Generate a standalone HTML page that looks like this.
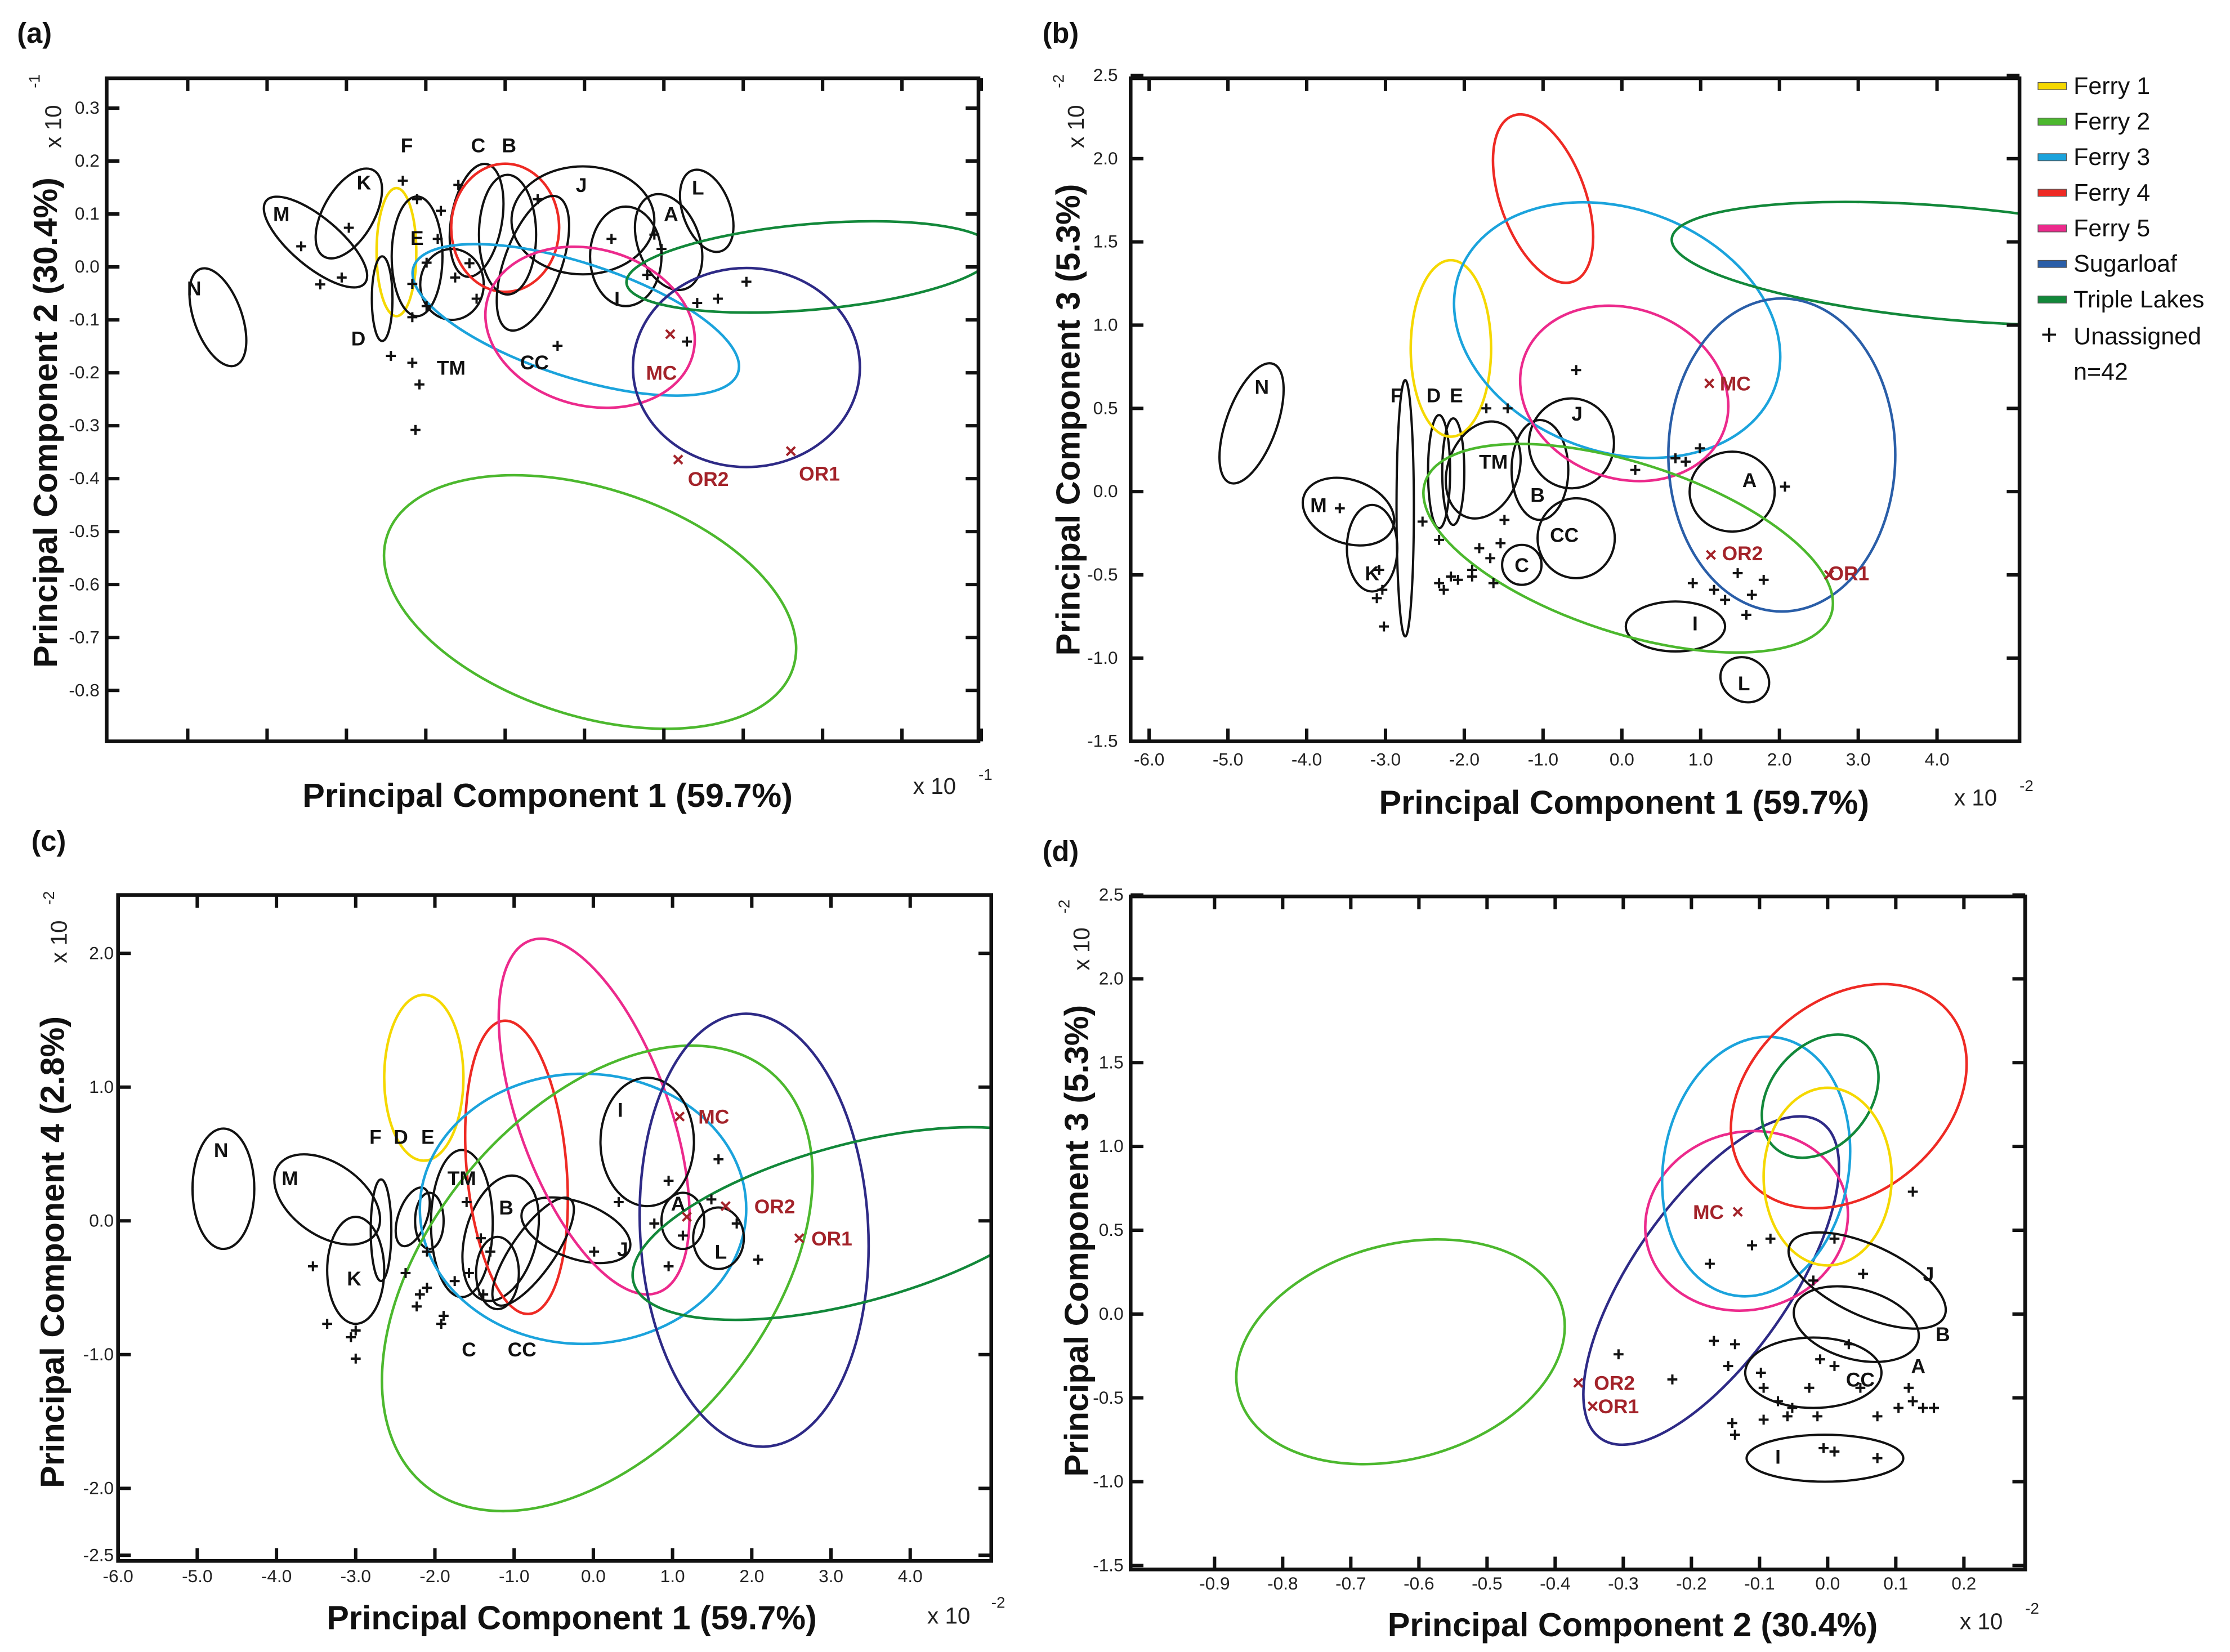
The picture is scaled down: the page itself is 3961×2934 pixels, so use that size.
<!DOCTYPE html>
<html><head><meta charset="utf-8"><style>
html,body{margin:0;padding:0;background:#fff;}
svg{display:block;}
text{font-family:"Liberation Sans",sans-serif;}
</style></head><body>
<svg id="fig" xmlns="http://www.w3.org/2000/svg" width="3961" height="2934" viewBox="0 0 1568 1161" preserveAspectRatio="none">
<rect x="0" y="0" width="1568" height="1161" fill="#fff"/>
</svg>
<script>
// ---------- colours ----------
const colors = {k:'#111', y:'#f5d800', g:'#4cb82e', lb:'#1ba3dc', r:'#ee2a24', p:'#ec2a8c', s:'#2a5ea8', pu:'#2e2a86', tl:'#12883a'};

// ---------- panel (a) data ----------
const aEll = [
 [0.38,-0.095,0.30,0.097,-20,'k'],[1.61,0.047,0.81,0.046,40,'k'],[2.03,0.101,0.32,0.094,30,'k'],
 [2.63,0.028,0.25,0.121,0,'y'],[2.89,0.02,0.32,0.113,0,'k'],[2.45,-0.06,0.13,0.08,0,'k'],[3.33,-0.033,0.40,0.067,0,'k'],
 [3.64,0.088,0.32,0.108,10,'k'],[4.0,0.074,0.68,0.121,0,'r'],[4.03,0.061,0.36,0.113,0,'k'],
 [4.35,0.007,0.36,0.134,20,'k'],[4.98,0.088,0.9,0.102,0,'k'],[5.52,0.02,0.45,0.094,0,'k'],
 [6.06,0.047,0.39,0.094,-20,'k'],[6.54,0.106,0.30,0.081,-20,'k'],
 [4.89,-0.10,2.15,0.108,18,'lb'],[5.07,-0.114,1.34,0.148,15,'p'],[7.04,-0.19,1.43,0.188,0,'pu'],
 [7.85,0.0,2.33,0.081,-5,'tl'],[5.07,-0.633,2.69,0.215,18,'g']];
const aPts = [[2.71,0.163],[2.89,0.128],[3.19,0.106],[3.41,0.155],[3.15,0.053],[3.01,0.008],[2.83,-0.032],[3.01,-0.074],[2.56,-0.168],[2.83,-0.181],[2.92,-0.222],[2.87,-0.308],[3.37,-0.02],[3.64,-0.06],[3.55,0.007],[4.41,0.128],[4.66,-0.149],[5.34,0.053],[5.88,0.061],[5.97,0.034],[5.79,-0.015],[6.29,-0.141],[6.42,-0.068],[6.68,-0.06],[7.04,-0.028],[2.03,0.074],[1.94,-0.02],[1.43,0.039],[1.67,-0.033],[2.83,-0.095]];
const aRef = [[6.08,-0.127],[6.18,-0.364],[7.6,-0.348]];
const aLab = [['N',0.08,-0.04],['M',1.18,0.10],['K',2.22,0.16],['F',2.76,0.23],['E',2.89,0.055],['D',2.15,-0.135],['TM',3.32,-0.19],['C',3.66,0.23],['B',4.05,0.23],['CC',4.37,-0.18],['J',4.96,0.155],['I',5.41,-0.06],['A',6.09,0.10],['L',6.43,0.15]];
const aRefLab = [['MC',5.97,-0.20],['OR2',6.56,-0.40],['OR1',7.96,-0.39]];
const aYTicks = ['0.3','0.2','0.1','0.0','-0.1','-0.2','-0.3','-0.4','-0.5','-0.6','-0.7','-0.8'];

// ---------- panel (b) data ----------
const bEll = [
 [-4.70,0.41,0.32,0.38,20,'k'],[-3.47,-0.12,0.6,0.19,20,'k'],[-3.17,-0.34,0.32,0.26,0,'k'],
 [-2.75,-0.10,0.11,0.77,0,'k'],[-2.32,0.12,0.14,0.34,0,'k'],[-2.14,0.12,0.14,0.32,0,'k'],
 [-2.17,0.86,0.51,0.53,0,'y'],[-1.76,0.13,0.45,0.30,20,'k'],[-1.04,0.13,0.36,0.30,0,'k'],
 [-0.64,0.29,0.54,0.27,0,'k'],[-1.27,-0.44,0.25,0.12,0,'k'],[-0.58,-0.28,0.49,0.24,0,'k'],
 [0.68,-0.81,0.63,0.15,0,'k'],[1.56,-1.13,0.32,0.13,30,'k'],[1.40,0.0,0.54,0.24,0,'k'],
 [-1.0,1.76,0.54,0.53,-20,'r'],[-0.06,0.97,2.13,0.73,20,'lb'],[0.03,0.59,1.35,0.51,20,'p'],
 [2.03,0.22,1.44,0.94,0,'s'],[0.08,-0.34,2.71,0.51,18,'g'],[4.23,1.37,3.61,0.34,5,'tl']];
const bPts = [[-3.58,-0.10],[-3.08,-0.47],[-3.04,-0.59],[-3.11,-0.64],[-3.02,-0.81],[-2.53,-0.18],[-2.32,-0.29],[-2.32,-0.55],[-2.17,-0.51],[-2.26,-0.59],[-2.08,-0.53],[-1.90,-0.47],[-1.81,-0.34],[-1.67,-0.40],[-1.90,-0.51],[-1.54,-0.31],[-1.49,-0.17],[-1.72,0.50],[-1.45,0.50],[-0.58,0.73],[0.17,0.13],[0.68,0.20],[0.81,0.18],[0.99,0.26],[2.07,0.03],[0.90,-0.55],[1.17,-0.59],[1.47,-0.49],[1.65,-0.62],[1.80,-0.53],[1.58,-0.74],[1.31,-0.65],[-1.63,-0.55]];
const bRef = [[1.11,0.65],[1.13,-0.38],[2.63,-0.50]];
const bLab = [['N',-4.57,0.63],['M',-3.85,-0.08],['K',-3.17,-0.49],['F',-2.86,0.58],['D',-2.39,0.58],['E',-2.1,0.58],['TM',-1.63,0.18],['B',-1.07,-0.02],['J',-0.57,0.47],['C',-1.27,-0.44],['CC',-0.73,-0.26],['I',0.93,-0.79],['L',1.55,-1.15],['A',1.62,0.07]];
const bRefLab = [['MC',1.44,0.65],['OR2',1.53,-0.37],['OR1',2.88,-0.49]];
const bYTicks = ['2.5','2.0','1.5','1.0','0.5','0.0','-0.5','-1.0','-1.5'];
const bXTicks = ['-6.0','-5.0','-4.0','-3.0','-2.0','-1.0','0.0','1.0','2.0','3.0','4.0'];

// ---------- panel (c) data ----------
const cEll = [
 [-4.67,0.24,0.39,0.45,0,'k'],[-3.36,0.16,0.75,0.27,35,'k'],[-3.0,-0.37,0.36,0.40,0,'k'],
 [-2.68,-0.07,0.13,0.38,0,'k'],[-2.28,0.03,0.18,0.23,20,'k'],[-2.07,0.0,0.18,0.21,0,'k'],
 [-2.14,1.07,0.50,0.62,0,'y'],[-1.66,-0.02,0.39,0.55,0,'k'],[-1.17,-0.13,0.45,0.48,15,'k'],
 [-0.97,0.40,0.63,1.10,-5,'r'],[-1.21,-0.39,0.27,0.27,0,'k'],[-0.22,-0.07,0.72,0.21,20,'k'],
 [-0.76,-0.23,0.27,0.48,35,'k'],[0.01,0.78,0.95,1.40,-20,'p'],[-0.13,0.09,2.06,1.01,0,'lb'],
 [0.68,0.59,0.59,0.48,0,'k'],[1.13,0.0,0.27,0.21,0,'k'],[1.58,-0.13,0.32,0.23,0,'k'],
 [0.05,-0.43,3.4,1.25,-50,'g'],[2.03,-0.07,1.44,1.62,-3,'pu'],[3.28,-0.02,2.87,0.59,-15,'tl']];
const cPts = [[-3.54,-0.34],[-3.36,-0.77],[-3.0,-0.82],[-3.0,-1.03],[-3.06,-0.87],[-2.37,-0.39],[-2.19,-0.55],[-2.10,-0.50],[-2.23,-0.64],[-1.92,-0.77],[-2.10,-0.23],[-1.60,0.14],[-1.42,-0.13],[-1.57,-0.39],[-1.39,-0.55],[-1.30,-0.23],[-1.75,-0.45],[-1.89,-0.71],[0.32,0.14],[0.77,-0.02],[0.95,-0.34],[1.13,-0.11],[1.49,0.16],[1.58,0.46],[1.81,-0.02],[2.08,-0.29],[0.95,0.30],[0.01,-0.23]];
const cRef = [[1.09,0.78],[1.18,0.03],[1.67,0.11],[2.60,-0.13]];
const cLab = [['N',-4.70,0.53],['M',-3.83,0.32],['F',-2.75,0.63],['D',-2.43,0.63],['E',-2.09,0.63],['TM',-1.66,0.32],['K',-3.02,-0.43],['B',-1.1,0.1],['C',-1.57,-0.96],['CC',-0.90,-0.96],['J',0.37,-0.21],['I',0.34,0.83],['A',1.07,0.13],['L',1.61,-0.23]];
const cRefLab = [['MC',1.52,0.78],['OR2',2.29,0.11],['OR1',3.01,-0.13]];
const cYTicks = [['2.0',2.0],['1.0',1.0],['0.0',0.0],['-1.0',-1.0],['-2.0',-2.0],['-2.5',-2.5]];
const cXTicks = ['-6.0','-5.0','-4.0','-3.0','-2.0','-1.0','0.0','1.0','2.0','3.0','4.0'];

// ---------- panel (d) data ----------
const dEll = [
 [-0.627,-0.225,0.246,0.64,-15,'g'],[-0.171,0.20,0.115,1.15,35,'pu'],[-0.119,0.556,0.150,0.53,-15,'p'],
 [-0.105,0.88,0.136,0.78,10,'lb'],[0.031,1.30,0.142,0.78,50,'r'],[-0.011,1.30,0.073,0.41,40,'tl'],
 [0.0,0.82,0.094,0.53,0,'y'],[0.058,0.20,0.125,0.21,25,'k'],[0.042,-0.06,0.094,0.21,15,'k'],
 [-0.021,-0.35,0.10,0.21,0,'k'],[-0.004,-0.86,0.115,0.14,0,'k']];
const dPts = [[-0.307,-0.24],[-0.228,-0.39],[-0.167,-0.16],[-0.136,-0.18],[-0.146,-0.31],[-0.098,-0.35],[-0.094,-0.44],[-0.073,-0.52],[-0.052,-0.56],[-0.027,-0.44],[-0.011,-0.27],[0.010,-0.31],[0.031,-0.18],[0.048,-0.44],[0.073,-0.61],[0.104,-0.56],[0.125,-0.52],[0.140,-0.56],[0.156,-0.56],[0.119,-0.44],[-0.140,-0.65],[-0.136,-0.72],[-0.094,-0.63],[-0.059,-0.61],[-0.015,-0.61],[-0.006,-0.80],[0.010,-0.82],[0.073,-0.86],[-0.173,0.30],[-0.084,0.45],[-0.021,0.20],[0.010,0.45],[0.052,0.24],[0.125,0.73],[-0.111,0.41]];
const dRef = [[-0.132,0.61],[-0.366,-0.41],[-0.345,-0.55]];
const dLab = [['J',0.148,0.24],['B',0.169,-0.12],['A',0.133,-0.31],['CC',0.048,-0.39],['I',-0.073,-0.85]];
const dRefLab = [['MC',-0.175,0.61],['OR2',-0.313,-0.41],['OR1',-0.307,-0.55]];
const dYTicks = ['2.5','2.0','1.5','1.0','0.5','0.0','-0.5','-1.0','-1.5'];
const dXTicks = ['-0.9','-0.8','-0.7','-0.6','-0.5','-0.4','-0.3','-0.2','-0.1','0.0','0.1','0.2'];

// ---------- legend ----------
const legendNames = ['Ferry 1','Ferry 2','Ferry 3','Ferry 4','Ferry 5','Sugarloaf','Triple Lakes'];
const legendKeys = ['y','g','lb','r','p','s','tl'];

// ---------- axes ----------
const xa = v => 132 + 55.8*v,  ya = v => 76 + (0.3 - v)*372;
const xb = v => 808 + (v + 6)*55.4, yb = v => 53 + (2.5 - v)*117;
const xc = v => 83 + (v + 6)*55.7,  yc = v => 670 + (2.0 - v)*94;
const xd = v => 854 + (v + 0.9)*479, yd = v => 629 + (2.5 - v)*117.8;

const NS = 'http://www.w3.org/2000/svg';
const svg = document.getElementById('fig');
function mk(tag, attrs, parent){ const e=document.createElementNS(NS,tag); for(const k in attrs) e.setAttribute(k,attrs[k]); (parent||svg).appendChild(e); return e; }
function txt(s, attrs, parent){ const t=mk('text',attrs,parent); t.textContent=s; return t; }

function panel(id, box, sx, sy, kx, ky, ell, pts, refs, labs, refLabs){
  const g = mk('g',{});
  
  
  const cp = mk('clipPath',{id:'clip-'+id}, g);
  mk('rect',{x:box[0],y:box[1],width:box[2]-box[0],height:box[3]-box[1]}, cp);
  const pg = mk('g',{'clip-path':'url(#clip-'+id+')'}, g);
  ell.forEach(e => {
    const cx=sx(e[0]), cy=sy(e[1]);
    const el = mk('ellipse',{cx:cx,cy:cy,rx:Math.abs(kx*e[2]),ry:Math.abs(ky*e[3]),transform:'rotate('+e[4]+' '+cx+' '+cy+')',fill:'none',stroke:colors[e[5]],'stroke-width':e[5]==='k'?1.6:1.8}, pg);
    
    
  });
  pts.forEach(p => {
    const x=sx(p[0]), y=sy(p[1]);
    const pm = mk('path',{d:'M'+(x-3.5)+' '+y+'h7M'+x+' '+(y-3.5)+'v7',stroke:'#111','stroke-width':1.6}, pg);
    
    
  });
  refs.forEach(p => {
    const x=sx(p[0]), y=sy(p[1]);
    const rm = mk('path',{d:'M'+(x-3)+' '+(y-3)+'l6 6M'+(x+3)+' '+(y-3)+'l-6 6',stroke:'#a3232a','stroke-width':1.6}, pg);
    
    
  });
  labs.forEach(l => {
    const t = txt(l[0],{x:sx(l[1]),y:sy(l[2])+5,'text-anchor':'middle','font-size':14,'font-weight':'bold',fill:'#111'}, g);
    
    
  });
  refLabs.forEach(l => {
    const t = txt(l[0],{x:sx(l[1]),y:sy(l[2])+5,'text-anchor':'middle','font-size':14,'font-weight':'bold',fill:'#a3232a'}, g);
    
    
  });
  const fr = mk('rect',{x:box[0],y:box[1],width:box[2]-box[0],height:box[3]-box[1],fill:'none',stroke:'#111','stroke-width':2.6}, g);
  
  
  return g;
}
function yTicks(g, box, sy, list, lx){
  list.forEach(t => {
    const lab = Array.isArray(t)?t[0]:t, v = Array.isArray(t)?t[1]:parseFloat(t);
    const y = sy(v);
    mk('path',{d:'M'+box[0]+' '+y+'h9M'+box[2]+' '+y+'h-9',stroke:'#111','stroke-width':2.4}, g);
    const tx = txt(lab,{x:lx,y:y+4,'text-anchor':'end','font-size':12.5,fill:'#222'}, g);
    
    
  });
}
function xTicks(g, box, sx, vals, labels, ly){
  vals.forEach((v,i) => {
    const x = sx(v);
    mk('path',{d:'M'+x+' '+box[3]+'v-9M'+x+' '+box[1]+'v9',stroke:'#111','stroke-width':2.4}, g);
    if(labels){
      const tx = txt(labels[i],{x:x,y:ly,'text-anchor':'middle','font-size':12.5,fill:'#222'}, g);
      
      
    }
  });
}
function titles(xt, xtx, xty, yt, ytx, yty, ex, ey, yex, yey){
  const a = txt(xt,{x:xtx,y:xty,'text-anchor':'middle','font-size':23.5,'font-weight':'bold',fill:'#111'});
  
  
  const b = txt(yt,{x:0,y:0,'text-anchor':'middle','font-size':23.5,'font-weight':'bold',fill:'#111',transform:'translate('+ytx+' '+yty+') rotate(-90)'});
  
  
  const c = txt('x 10',{x:ex,y:ey,'font-size':16,fill:'#222'});
  
  
  const d = txt('x 10',{x:0,y:0,'font-size':16,fill:'#222',transform:'translate('+yex+' '+yey+') rotate(-90)'});
  
  
}
function sup(s, x, y, rot){
  const t = txt(s,{x:0,y:0,'font-size':11,fill:'#222',transform:'translate('+x+' '+y+')'+(rot?' rotate(-90)':'')});
  
  
}
function plabel(s,x,y){
  const t = txt(s,{x:x,y:y,'font-size':20,'font-weight':'bold',fill:'#111'});
  
  
}

// (a)
const boxA=[75,55,688,521];
const gA = panel('a', boxA, xa, ya, 55.8, 372, aEll, aPts, aRef, aLab, aRefLab);
yTicks(gA, boxA, ya, aYTicks, 70);
xTicks(gA, boxA, xa, [0,1,2,3,4,5,6,7,8,9,10], null, 0);
titles('Principal Component 1 (59.7%)',385,567,'Principal Component 2 (30.4%)',40,297,642,558,43,104);
sup('-1',688,548,false); sup('-1',28,62,true);
plabel('(a)',12,30);

// (b)
const boxB=[795,55,1420,521];
const gB = panel('b', boxB, xb, yb, 55.4, 117, bEll, bPts, bRef, bLab, bRefLab);
yTicks(gB, boxB, yb, bYTicks, 786);
xTicks(gB, boxB, xb, bXTicks.map(parseFloat), bXTicks, 538);
titles('Principal Component 1 (59.7%)',1142,572,'Principal Component 3 (5.3%)',759,295,1374,566,762,104);
sup('-2',1420,556,false); sup('-2',748,62,true);
plabel('(b)',733,30);

// (c)
const boxC=[83,629,697,1097];
const gC = panel('c', boxC, xc, yc, 55.7, 94, cEll, cPts, cRef, cLab, cRefLab);
yTicks(gC, boxC, yc, cYTicks, 80);
xTicks(gC, boxC, xc, cXTicks.map(parseFloat), cXTicks, 1112);
titles('Principal Component 1 (59.7%)',402,1145,'Principal Component 4 (2.8%)',45,880,652,1141,47,677);
sup('-2',697,1130,false); sup('-2',38,636,true);
plabel('(c)',22,598);

// (d)
const boxD=[795,630,1424,1103];
const gD = panel('d', boxD, xd, yd, 479, 117.8, dEll, dPts, dRef, dLab, dRefLab);
yTicks(gD, boxD, yd, dYTicks, 790);
xTicks(gD, boxD, xd, dXTicks.map(parseFloat), dXTicks, 1117);
titles('Principal Component 2 (30.4%)',1148,1150,'Principal Component 3 (5.3%)',765,872,1378,1145,766,682);
sup('-2',1424,1134,false); sup('-2',752,642,true);
plabel('(d)',733,605);

// legend
const lg = mk('g',{});


legendNames.forEach((n,i) => {
  const y = 60 + 25*i;
  const sw = mk('rect',{x:1433,y:y-2,width:20,height:5,fill:colors[legendKeys[i]],stroke:'#555','stroke-width':0.5}, lg);
  
  
  const t = txt(n,{x:1458,y:y+6,'font-size':17,fill:'#111'}, lg);
  
  
});
const up = txt('+',{x:1435,y:242,'font-size':20,fill:'#111'}, lg);


const ut = txt('Unassigned',{x:1458,y:242,'font-size':17,fill:'#111'}, lg);


const nt = txt('n=42',{x:1458,y:267,'font-size':17,fill:'#111'}, lg);


</script>
</body></html>
